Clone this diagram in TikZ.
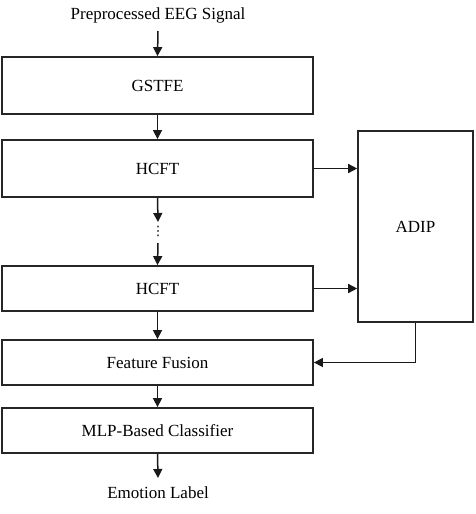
\documentclass[tikz,border=0pt]{standalone}
\usepackage{fontspec}
\setmainfont{Liberation Serif}
\newfontfamily\dejavu{DejaVu Sans}
\usetikzlibrary{arrows.meta}
\begin{document}
\begin{tikzpicture}[x=1pt,y=-1pt,
  box/.style={draw=black!85, line width=1.8pt, minimum width=311pt, inner sep=0pt, font=\fontsize{17}{20}\selectfont},
  lbl/.style={inner sep=0pt, font=\fontsize{17}{20}\selectfont},
  arr/.style={line width=1.5pt, draw=black!90, -{Triangle[length=9pt,width=9pt]}}]
\useasboundingbox (0,0) rectangle (475,514);
\node[lbl] (pre) at (158,15) {Preprocessed EEG Signal};
\node[box, minimum height=57pt] (gstfe) at (157.5,85.5) {GSTFE};
\node[box, minimum height=57pt] (h1) at (157.5,168.5) {HCFT};
\node[box, minimum height=45pt] (h2) at (157.5,288.5) {HCFT};
\node[box, minimum height=45pt] (ff) at (157.5,362.5) {Feature Fusion};
\node[box, minimum height=45pt] (mlp) at (157.5,430.5) {MLP-Based Classifier};
\node[lbl] (emo) at (158,493) {Emotion Label};
\node[box, minimum width=115pt, minimum height=191pt, line width=1.6pt] (adip) at (415.5,226.5) {ADIP};
\node[inner sep=0pt, font=\dejavu\fontsize{13}{15}\selectfont] (dots) at (158,231) {⋮};
\coordinate (p0) at (158,31);
\coordinate (d1) at (158,222);
\coordinate (d2) at (158,243);
\coordinate (e0) at (158,478);
\draw[arr] (p0) -- (gstfe.north);
\draw[arr] (gstfe.south) -- (h1.north);
\draw[arr] (h1.south) -- (d1);
\draw[arr] (d2) -- (h2.north);
\draw[arr] (h2.south) -- (ff.north);
\draw[arr] (ff.south) -- (mlp.north);
\draw[arr] (mlp.south) -- (e0);
\draw[arr] (h1.east) -- (h1.east -| adip.west);
\draw[arr] (h2.east) -- (h2.east -| adip.west);
\draw[arr] (adip.south) |- (ff.east);
\end{tikzpicture}
\end{document}
